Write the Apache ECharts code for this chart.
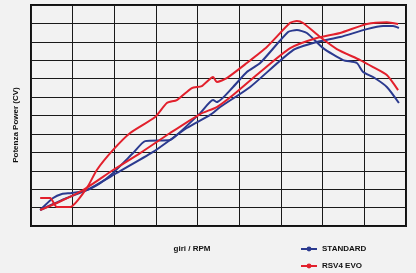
<!DOCTYPE html>
<html>
  <head>
    <meta charset="utf-8">
    <title>Potenza</title>
    <script src="https://cdn.jsdelivr.net/npm/echarts@6/dist/echarts.min.js"></script>
    <style>
      html, body { margin: 0; padding: 0; background: #f2f2f2; }
    </style>
  </head>
  <body>
    <div id="chart" style="width: 416px; height: 273px;"></div>
    <script type="text/javascript">
      // x: grid columns (rpm, no labels), y: grid rows (CV, no labels)
      var legendNames = ["STANDARD", "RSV4 EVO"];
      var stdPower = [
        [0.22, 0.87], [0.53, 1.52], [0.74, 1.74], [0.98, 1.79], [1.34, 1.95],
        [1.66, 2.33], [1.97, 2.88], [2.45, 3.96], [2.74, 4.61], [3.34, 4.67],
        [3.50, 4.94], [4.06, 6.13], [4.37, 6.84], [4.46, 6.73], [4.85, 7.55],
        [5.18, 8.36], [5.50, 8.85], [6.17, 10.53], [6.38, 10.64], [6.62, 10.48],
        [7.01, 9.66], [7.49, 9.01], [7.82, 8.85], [7.97, 8.36], [8.21, 8.09],
        [8.54, 7.55], [8.83, 6.68]
      ];
      var stdLinear = [
        [0.22, 0.87], [0.86, 1.52], [1.34, 1.95], [2.06, 2.88], [2.93, 4.02],
        [3.74, 5.32], [4.30, 6.03], [4.54, 6.46], [5.26, 7.55], [6.29, 9.55],
        [6.86, 9.99], [7.42, 10.26], [8.06, 10.69], [8.45, 10.86], [8.69, 10.86],
        [8.83, 10.75]
      ];
      var evoPower = [
        [0.22, 1.52], [0.46, 1.52], [0.62, 1.03], [0.94, 1.03], [1.34, 2.06],
        [1.58, 3.04], [1.97, 4.13], [2.38, 5.05], [2.98, 5.92], [3.26, 6.68],
        [3.50, 6.84], [3.86, 7.49], [4.10, 7.60], [4.37, 8.09], [4.46, 7.82],
        [4.70, 8.03], [5.18, 8.85], [5.66, 9.72], [6.22, 11.03], [6.38, 11.13],
        [6.53, 11.02], [6.94, 10.26], [7.34, 9.61], [7.90, 9.01], [8.21, 8.63],
        [8.54, 8.20], [8.81, 7.38]
      ];
      var evoLinear = [
        [0.22, 0.87], [0.62, 1.25], [1.25, 1.95], [1.97, 3.04], [2.62, 3.96],
        [3.34, 5.05], [4.06, 6.08], [4.46, 6.46], [4.85, 7.11], [5.50, 8.36],
        [6.22, 9.66], [6.86, 10.21], [7.42, 10.48], [8.06, 10.97], [8.54, 11.07],
        [8.81, 10.97]
      ];

      var blue = "#2b3a8f";
      var red = "#e2202c";
      var font = "Liberation Sans, Arial, sans-serif";

      function lineSeries(name, data, color) {
        return {
          type: "line",
          name: name,
          data: data,
          smooth: 0.2,
          symbol: "circle",
          symbolSize: 4,
          showSymbol: false,
          lineStyle: { color: color, width: 2 },
          itemStyle: { color: color },
          silent: true,
          animation: false,
        };
      }

      var chartElem = echarts.init(document.getElementById("chart"), null, { renderer: "canvas" });
      chartElem.setOption({
        backgroundColor: "#f2f2f2",
        animation: false,
        grid: {
          left: 31, right: 10, top: 5, bottom: 47,
          show: true, borderColor: "#111", borderWidth: 2,
        },
        xAxis: {
          type: "value", min: 0, max: 9, interval: 1,
          axisLabel: { show: false }, axisTick: { show: false },
          axisLine: { show: false },
          splitLine: { show: true, lineStyle: { color: "#1a1a1a", width: 1 } },
        },
        yAxis: {
          type: "value", min: 0, max: 12, interval: 1,
          axisLabel: { show: false }, axisTick: { show: false },
          axisLine: { show: false },
          splitLine: { show: true, lineStyle: { color: "#1a1a1a", width: 1 } },
        },
        legend: {
          orient: "vertical",
          left: 300, top: 245,
          padding: 0,
          itemWidth: 16, itemHeight: 6, itemGap: 9,
          data: legendNames,
          textStyle: { fontFamily: font, fontWeight: "bold", fontSize: 8, color: "#111" },
        },
        graphic: [
          {
            type: "text", x: 16, y: 125, rotation: Math.PI / 2,
            style: {
              text: "Potenza Power (CV)", fill: "#111",
              font: "bold 8px " + font, align: "center", verticalAlign: "middle",
            },
          },
          {
            type: "text", x: 192, y: 249,
            style: {
              text: "giri / RPM", fill: "#111",
              font: "bold 8px " + font, align: "center", verticalAlign: "middle",
            },
          },
        ],
        series: [
          lineSeries("STANDARD", stdPower, blue),
          lineSeries("STANDARD", stdLinear, blue),
          lineSeries("RSV4 EVO", evoPower, red),
          lineSeries("RSV4 EVO", evoLinear, red),
        ],
      });
    </script>
  </body>
</html>
